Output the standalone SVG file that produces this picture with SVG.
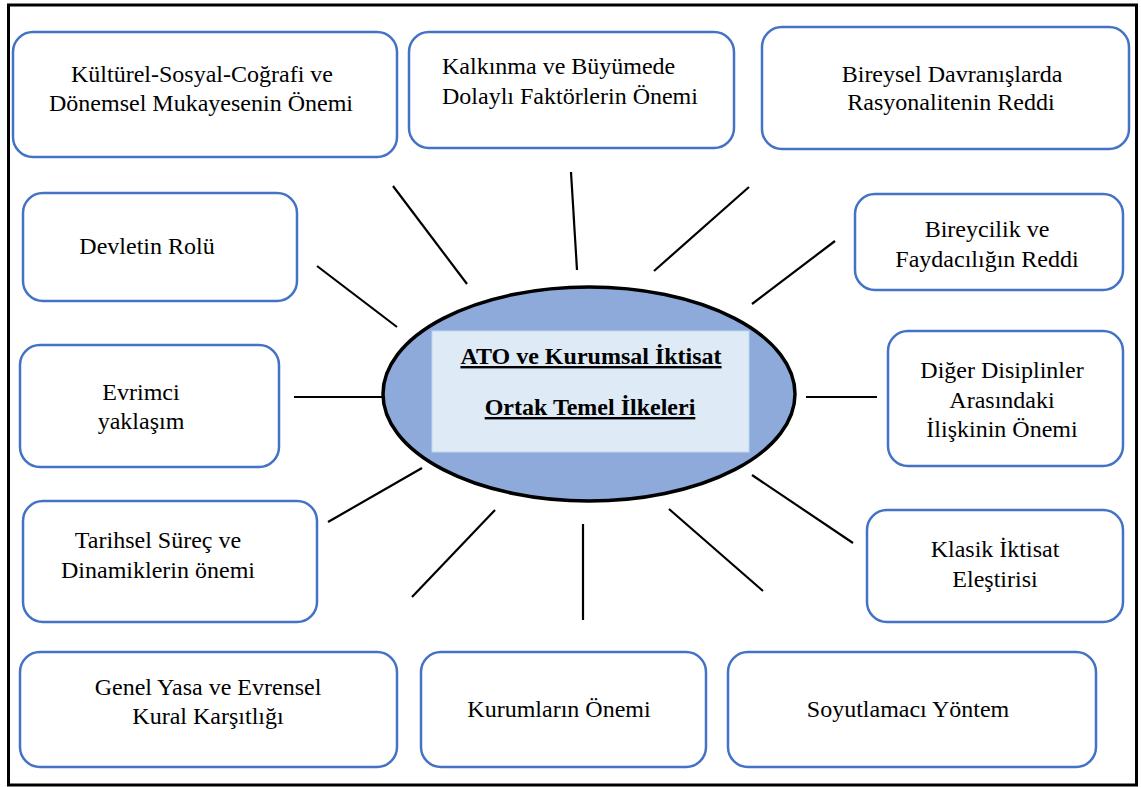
<svg xmlns="http://www.w3.org/2000/svg" width="1141" height="787" viewBox="0 0 1141 787">
  <style>
    .box { fill: #ffffff; stroke: #4472C4; stroke-width: 2.5; }
    .lbl { font-family: "Liberation Serif", "Times New Roman", serif; font-size: 24px; fill: #000000; text-anchor: middle; }
    .left { text-anchor: start; }
    .title { font-family: "Liberation Serif", "Times New Roman", serif; font-size: 24px; font-weight: bold; fill: #000000; text-anchor: middle; text-decoration: underline; }
    .conn line { stroke: #000000; stroke-width: 2.2; }
  </style>

  <!-- outer frame -->
  <rect x="8.5" y="5" width="1128" height="780" fill="#ffffff" stroke="#000000" stroke-width="3"/>

  <!-- spokes around the central ellipse -->
  <g id="connectors" class="conn">
    <line x1="393" y1="186" x2="467" y2="284"/>
    <line x1="571" y1="172" x2="577" y2="270"/>
    <line x1="749" y1="187" x2="654" y2="271"/>
    <line x1="835" y1="241" x2="752" y2="304"/>
    <line x1="317" y1="266" x2="397" y2="327"/>
    <line x1="294" y1="397" x2="382" y2="397"/>
    <line x1="806" y1="397" x2="877" y2="397"/>
    <line x1="328" y1="522" x2="422" y2="468"/>
    <line x1="495" y1="510" x2="412" y2="597"/>
    <line x1="583" y1="524" x2="583" y2="620"/>
    <line x1="669" y1="509" x2="763" y2="591"/>
    <line x1="752" y1="475" x2="853" y2="543"/>
  </g>

  <!-- central node -->
  <g id="center">
    <ellipse cx="589" cy="394" rx="206" ry="107" fill="#8EAADB" stroke="#000000" stroke-width="3.5"/>
    <rect x="432" y="331" width="317" height="121" fill="#DEEAF6" stroke="#BDD7EE" stroke-width="1"/>
    <text class="title" x="591" y="364">ATO ve Kurumsal İktisat</text>
    <text class="title" x="590" y="415">Ortak Temel İlkeleri</text>
  </g>

  <g id="kulturel">
    <rect class="box" x="13" y="32" width="384" height="125" rx="20"/>
    <text class="lbl" x="202" y="82">Kültürel-Sosyal-Coğrafi ve</text>
    <text class="lbl" x="201" y="111">Dönemsel Mukayesenin Önemi</text>
  </g>

  <g id="kalkinma">
    <rect class="box" x="409" y="32" width="325" height="116" rx="20"/>
    <text class="lbl left" x="442" y="74">Kalkınma ve Büyümede</text>
    <text class="lbl left" x="442" y="104">Dolaylı Faktörlerin Önemi</text>
  </g>

  <g id="bireysel">
    <rect class="box" x="762" y="27" width="367" height="122" rx="20"/>
    <text class="lbl" x="952" y="82">Bireysel Davranışlarda</text>
    <text class="lbl" x="951" y="110">Rasyonalitenin Reddi</text>
  </g>

  <g id="devlet">
    <rect class="box" x="23" y="193" width="274" height="108" rx="20"/>
    <text class="lbl" x="147" y="254">Devletin Rolü</text>
  </g>

  <g id="bireycilik">
    <rect class="box" x="855" y="194" width="268" height="96" rx="20"/>
    <text class="lbl" x="987" y="237">Bireycilik ve</text>
    <text class="lbl" x="987" y="267">Faydacılığın Reddi</text>
  </g>

  <g id="evrimci">
    <rect class="box" x="20" y="345" width="259" height="122" rx="20"/>
    <text class="lbl" x="141" y="400">Evrimci</text>
    <text class="lbl" x="141" y="429">yaklaşım</text>
  </g>

  <g id="diger">
    <rect class="box" x="888" y="331" width="235" height="135" rx="20"/>
    <text class="lbl" x="1002" y="378">Diğer Disiplinler</text>
    <text class="lbl" x="1002" y="408">Arasındaki</text>
    <text class="lbl" x="1002" y="437">İlişkinin Önemi</text>
  </g>

  <g id="tarihsel">
    <rect class="box" x="23" y="501" width="294" height="121" rx="20"/>
    <text class="lbl" x="158" y="548">Tarihsel Süreç ve</text>
    <text class="lbl" x="158" y="578">Dinamiklerin önemi</text>
  </g>

  <g id="klasik">
    <rect class="box" x="867" y="510" width="256" height="112" rx="20"/>
    <text class="lbl" x="995" y="557">Klasik İktisat</text>
    <text class="lbl" x="995" y="587">Eleştirisi</text>
  </g>

  <g id="genel">
    <rect class="box" x="20" y="652" width="377" height="115" rx="20"/>
    <text class="lbl" x="208" y="695">Genel Yasa ve Evrensel</text>
    <text class="lbl" x="208" y="724">Kural Karşıtlığı</text>
  </g>

  <g id="kurumlar">
    <rect class="box" x="421" y="652" width="285" height="115" rx="20"/>
    <text class="lbl" x="559" y="717">Kurumların Önemi</text>
  </g>

  <g id="soyutlamaci">
    <rect class="box" x="728" y="652" width="368" height="115" rx="20"/>
    <text class="lbl" x="908" y="717">Soyutlamacı Yöntem</text>
  </g>
</svg>
